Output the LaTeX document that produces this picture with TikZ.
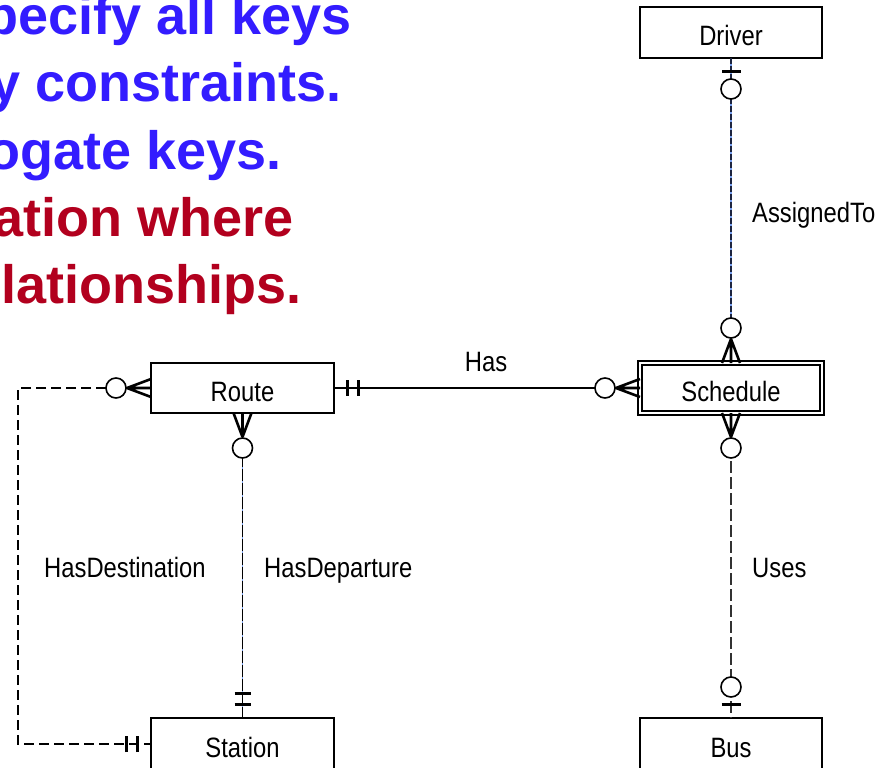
\documentclass[tikz,border=0pt]{standalone}
\usepackage{fontspec}
\setmainfont{Liberation Sans}
\newfontfamily\erfont{Liberation Sans}[FakeStretch=0.85]
\usetikzlibrary{calc}

\definecolor{headblue}{RGB}{51,28,255}
\definecolor{headred}{RGB}{178,0,30}
\definecolor{navyline}{RGB}{28,36,64}
\definecolor{gapblue}{RGB}{120,160,240}
\definecolor{dashgrey}{RGB}{50,50,50}

\tikzset{
  entity/.style={draw, line width=1.5pt, inner sep=0pt, outer sep=0pt,
    font=\erfont\fontsize{28}{30}\selectfont, text height=26.4pt, text depth=0pt},
  weakentity/.style={entity, line width=1.4pt, double, double distance=2.8pt},
  rellabel/.style={inner sep=0pt, font=\erfont\fontsize{28}{30}\selectfont},
  headline/.style={anchor=base east, inner sep=0pt,
    font=\bfseries\fontsize{54}{54}\selectfont},
  plainlink/.style={line width=1.5pt},
  tintdash/.style={line width=1.6pt,
    preaction={draw, solid, gapblue, line width=1.2pt}},
  navydash/.style={tintdash, navyline, dash pattern=on 6pt off 2pt},
  blackdash/.style={tintdash, black, dash pattern=on 12pt off 2pt},
  greydash/.style={line width=1.6pt, dashgrey, dash pattern=on 12pt off 4pt},
  loopdash/.style={line width=1.5pt, black, dash pattern=on 10pt off 5pt},
  crowline/.style={line width=2.6pt, black},
  ringline/.style={line width=1.6pt, black, fill=white},
  barline/.style={line width=3pt, black},
  % crow's foot with ring: zero or many (local x points away from the entity)
  zeromany/.pic={
    \draw[crowline] (0,-9) -- (24,0) (0,0) -- (24,0) (0,9) -- (24,0);
    \draw[ringline] (35,0) circle[radius=10pt];
  },
  % two bars: exactly one
  exactlyone/.pic={
    \draw[barline] (13.5,-8) -- (13.5,8) (24.5,-8) -- (24.5,8);
  },
  % bar with ring: zero or one
  zeroone/.pic={
    \draw[barline] (14,-9.5) -- (14,9.5);
    \draw[ringline] (31,0) circle[radius=10pt];
  }
}

\begin{document}
\begin{tikzpicture}[x=1pt, y=-1pt]
\useasboundingbox (0,0) rectangle (881,768);
\clip (0,0) rectangle (881,768);

% heading text, running off the left edge
\node[headline, text=headblue] (head1) at (352,35)  {Specify all keys};
\node[headline, text=headblue] (head2) at (342,102) {any constraints.};
\node[headline, text=headblue] (head3) at (282,169) {surrogate keys.};
\node[headline, text=headred]  (head4) at (294,236) {notation where};
\node[headline, text=headred]  (head5) at (302,303) {relationships.};

% entities
\node[entity, minimum width=182pt, minimum height=51pt] (driver) at (731,32.5) {Driver};
\node[weakentity, minimum width=182pt, minimum height=50pt] (schedule) at (731,388) {Schedule};
\node[entity, minimum width=183pt, minimum height=50pt] (route) at (242.5,388) {Route};
\node[entity, minimum width=183pt, minimum height=52pt] (station) at (242.5,744) {Station};
\node[entity, minimum width=182pt, minimum height=52pt] (bus) at (731,744) {Bus};

% relationships
\coordinate (loopcorner) at (18,388);
\draw[plainlink] (route.east) -- (schedule.west);
\draw[navydash] (driver.south) -- (schedule.north);
\draw[greydash] (schedule.south) -- (bus.north);
\draw[blackdash] (route.south) -- (station.north);
\draw[loopdash] (route.west) -- (loopcorner) |- (station.west);

% cardinality marks
\pic[rotate=0]   at (route.east)     {exactlyone};
\pic[rotate=180] at (schedule.west)  {zeromany};
\pic[rotate=-90] at (driver.south)   {zeroone};
\pic[rotate=90]  at (schedule.north) {zeromany};
\pic[rotate=-90] at (schedule.south) {zeromany};
\pic[rotate=90]  at (bus.north)      {zeroone};
\pic[rotate=-90] at (route.south)    {zeromany};
\pic[rotate=90]  at (station.north)  {exactlyone};
\pic[rotate=180] at (route.west)     {zeromany};
\pic[rotate=180] at (station.west)   {exactlyone};

% relationship names
\node[rellabel, anchor=base] (haslbl) at (486,371) {Has};
\node[rellabel, anchor=base west] (assignedlbl) at (752,222) {AssignedTo};
\node[rellabel, anchor=base west] (useslbl) at (752,577) {Uses};
\node[rellabel, anchor=base west] (destlbl) at (44,577) {HasDestination};
\node[rellabel, anchor=base west] (deplbl) at (264,577) {HasDeparture};
\end{tikzpicture}
\end{document}
